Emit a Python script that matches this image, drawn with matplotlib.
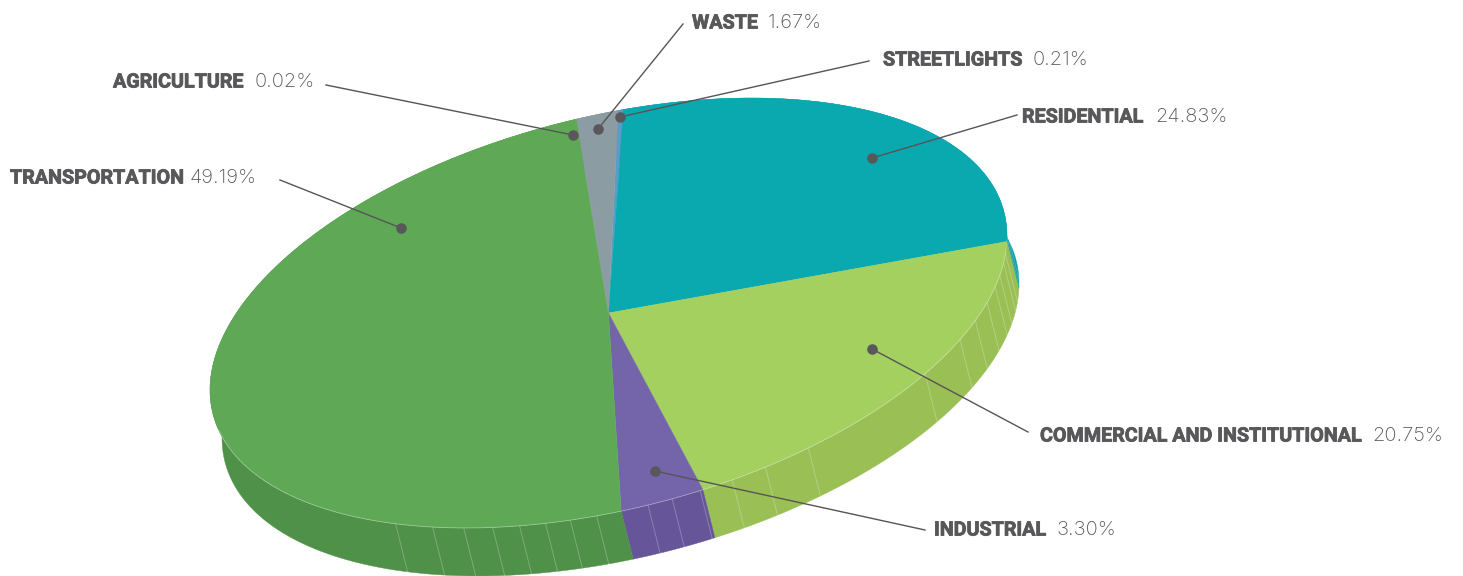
import numpy as np
import matplotlib
matplotlib.use('Agg')
import matplotlib.pyplot as plt
import matplotlib.patheffects as pe
from matplotlib.patches import Wedge, Polygon
from matplotlib.transforms import Affine2D

# Data, clockwise from the top
names = ['STREETLIGHTS', 'RESIDENTIAL', 'COMMERCIAL AND INSTITUTIONAL', 'INDUSTRIAL',
         'TRANSPORTATION', 'AGRICULTURE', 'WASTE']
values = [0.21, 24.83, 20.75, 3.30, 49.19, 0.02, 1.67]
value_labels = ['0.21%', '24.83%', '20.75%', '3.30%', '49.19%', '0.02%', '1.67%']

top_colors = ['#5a9bc9', '#0aa9b0', '#a4d05f', '#7465ab', '#5fa956', '#5fa956', '#8b9da3']
side_colors = ['#4f88ad', '#0a98a0', '#9abf55', '#665599', '#4f9148', '#4f9148', '#7b8c91']

# Light seams on the rim, degrees on the unit circle
facets = [-122.3, -116.2, -111.3, -106.9, -102.9, -99.1, -95.5, -91.7, -84.3, -80.8, -76.7,
          -71.9, -66.8, -59.9, -37.4, -28.1, -23.0, -18.2, -14.0, -10.9, -7.5, -5.0, -0.5, 1.5]

# Layout: (name x, value x, text y, leader start, leader dot)
layout = {
    'STREETLIGHTS': (883, 1033, 60, (869, 61), (620, 117)),
    'RESIDENTIAL': (1022, 1155, 117, (1017, 115), (872, 158)),
    'COMMERCIAL AND INSTITUTIONAL': (1040, 1372, 436, (1028, 432), (872, 349)),
    'INDUSTRIAL': (934, 1057, 530, (925, 530), (655, 471)),
    'TRANSPORTATION': (10, 190, 178, (280, 180), (401, 228)),
    'AGRICULTURE': (113, 255, 82, (326, 85), (573, 135)),
    'WASTE': (692, 768, 23, (683, 24), (598, 129)),
}

W, H = 1463, 576
START_ANGLE = 88.6
CX, CY = 608.5, 313.0
DEPTH = (12.0, 48.0)
TEXT_COLOR = '#58585a'
NAME_SIZE = 14.2
VALUE_SIZE = 14.5

# unit circle -> skewed ellipse in pixels (y axis runs downward)
tilt = np.array([[398.5, 0.0], [-77.0, -200.7]])


def rim(angles, shift=(0.0, 0.0)):
    rad = np.radians(angles)
    pts = tilt @ np.vstack([np.cos(rad), np.sin(rad)])
    return np.column_stack([pts[0] + CX + shift[0], pts[1] + CY + shift[1]])


fig = plt.figure(figsize=(W / 100, H / 100), dpi=100)
ax = fig.add_axes([0, 0, 1, 1])
ax.set_xlim(0, W)
ax.set_ylim(H, 0)
ax.axis('off')

shares = np.array(values) / np.sum(values) * 360
ends = START_ANGLE - np.cumsum(shares)
starts = ends + shares

# Side walls first, the top covers the back part
for a, b, col in zip(starts, ends, side_colors):
    arc = np.linspace(a, b, 200)
    wall = np.vstack([rim(arc), rim(arc[::-1], DEPTH)])
    ax.add_patch(Polygon(wall, closed=True, fc=col, ec=col, lw=0.3, zorder=1))

for f in facets:
    p = rim(np.array([f]))[0]
    q = rim(np.array([f]), DEPTH)[0]
    ax.plot([p[0], q[0]], [p[1], q[1]], color='white', alpha=0.25, lw=0.7, zorder=2)

# Top of the pie
unit_to_px = Affine2D.from_values(tilt[0, 0], tilt[1, 0], tilt[0, 1], tilt[1, 1], CX, CY)
for a, b, col in zip(starts, ends, top_colors):
    wedge = Wedge((0, 0), 1.0, b, a, fc=col, ec=col, lw=0.3, zorder=3)
    wedge.set_transform(unit_to_px + ax.transData)
    ax.add_patch(wedge)

front = rim(np.linspace(-168, -4, 300))
ax.plot(front[:, 0], front[:, 1], color='white', alpha=0.35, lw=0.6, zorder=4)

# Labels and leaders
heavy = [pe.withStroke(linewidth=0.6, foreground=TEXT_COLOR)]
for name, val in zip(names, value_labels):
    name_x, val_x, y, start, dot = layout[name]
    ax.plot([start[0], dot[0]], [start[1], dot[1]], color='#555557', lw=1.0, zorder=5)
    ax.plot(dot[0], dot[1], 'o', color='#58585a', ms=7.6, mew=0, zorder=6)
    ax.text(name_x, y, name, family='Roboto', fontweight='bold', fontsize=NAME_SIZE,
            color=TEXT_COLOR, va='center', ha='left', path_effects=heavy)
    ax.text(val_x, y, val, family='Inter', fontweight='light', fontsize=VALUE_SIZE,
            color=TEXT_COLOR, va='center', ha='left')

fig.savefig('out.png', dpi=100, facecolor='white')
